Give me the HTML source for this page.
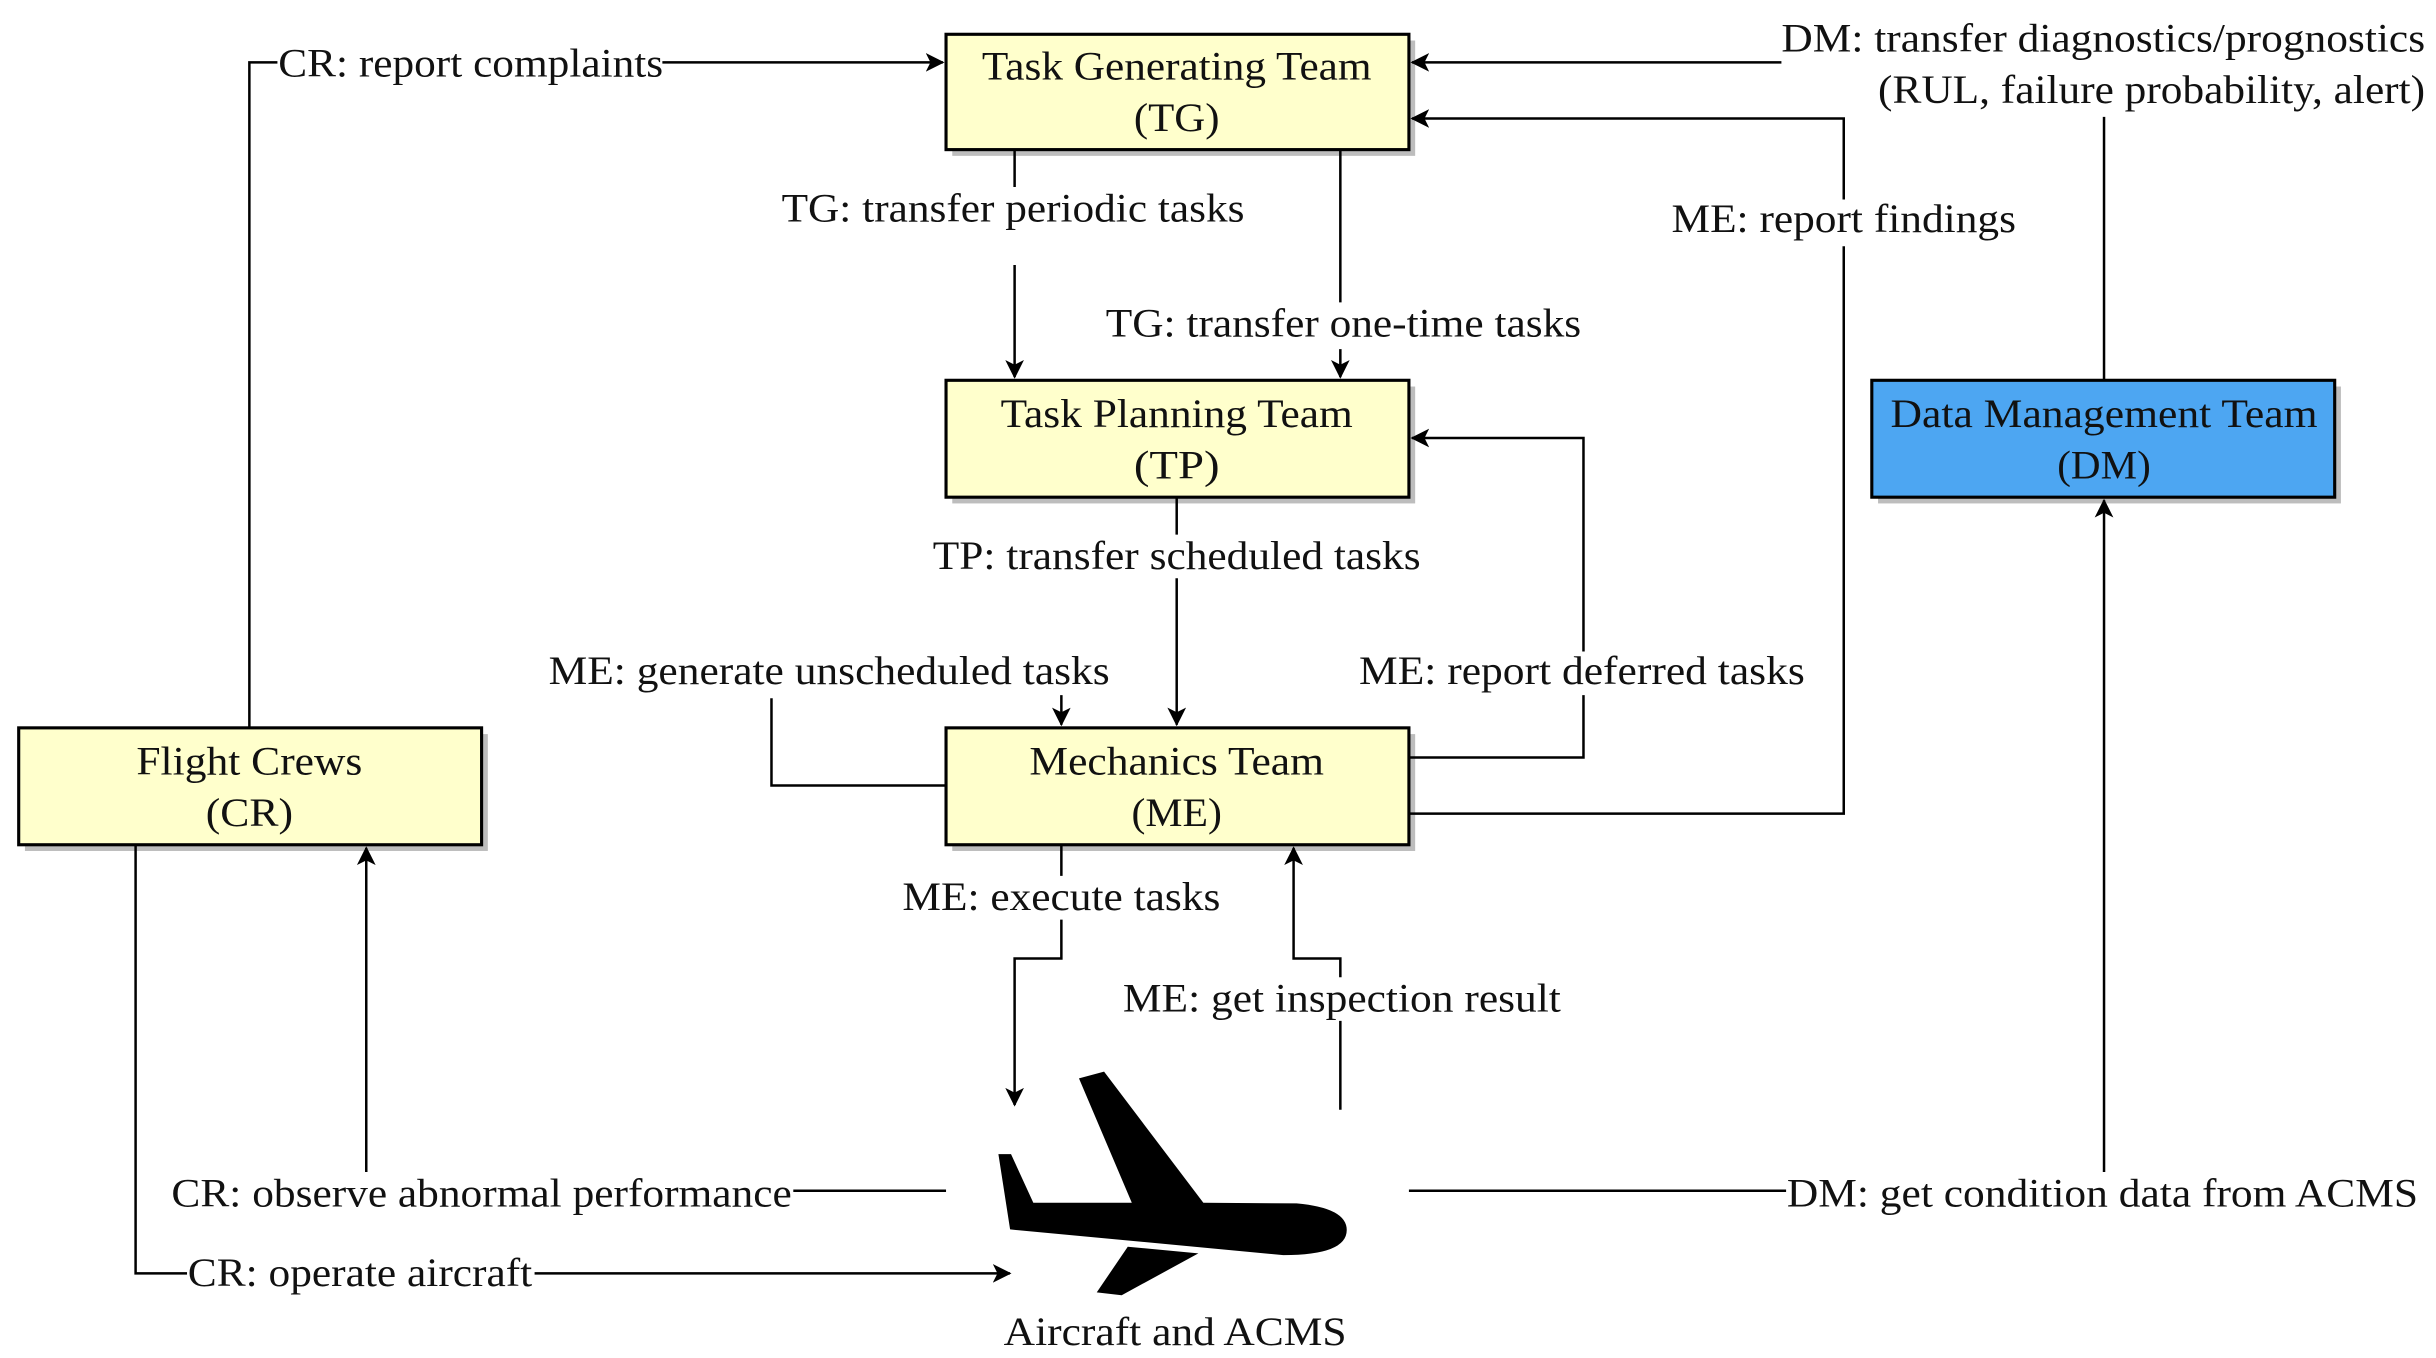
<!DOCTYPE html>
<html><head><meta charset="utf-8"><style>
html,body{margin:0;padding:0;background:#fff;}
svg{display:block;}
text{font-family:"Liberation Serif",serif;font-size:26px;fill:#111;}
</style></head><body>
<svg width="2436" height="1358" viewBox="0 0 1563 871.3" preserveAspectRatio="none" xmlns="http://www.w3.org/2000/svg">
<defs>
<marker id="a" viewBox="0 0 12 12" refX="11" refY="6" markerWidth="12" markerHeight="12" markerUnits="userSpaceOnUse" orient="auto">
<path d="M0,0 L12,6 L0,12 L3,6 Z" fill="#000"/></marker>
</defs>
<g fill="#bdbdbd">
<rect x="611" y="26" width="297" height="74"/>
<rect x="611" y="248" width="297" height="75"/>
<rect x="611" y="471" width="297" height="75"/>
<rect x="16" y="471" width="297" height="75"/>
<rect x="1205" y="248" width="297" height="75"/>
</g>
<g stroke="#000" stroke-width="2">
<rect x="607" y="22" width="297" height="74" fill="#ffffcc"/>
<rect x="607" y="244" width="297" height="75" fill="#ffffcc"/>
<rect x="607" y="467" width="297" height="75" fill="#ffffcc"/>
<rect x="12" y="467" width="297" height="75" fill="#ffffcc"/>
<rect x="1201" y="244" width="297" height="75" fill="#4da6f2"/>
</g>
<g fill="none" stroke="#000" stroke-width="1.6">
<path d="M160,467 V40 H178 M425,40 H605" marker-end="url(#a)"/>
<path d="M1350,244 V75"/>
<path d="M1143,40 H906" marker-end="url(#a)"/>
<path d="M904,522 H1183 V158 M1183,128 V76 H906" marker-end="url(#a)"/>
<path d="M651,96 V120 M651,170 V242" marker-end="url(#a)"/>
<path d="M860,96 V194 M860,224 V242" marker-end="url(#a)"/>
<path d="M755,319 V343 M755,371 V465" marker-end="url(#a)"/>
<path d="M904,486 H1016 V446 M1016,418 V281 H906" marker-end="url(#a)"/>
<path d="M607,504 H495 V448"/>
<path d="M681,446 V465" marker-end="url(#a)"/>
<path d="M681,542 V562 M681,590 V615 H651 V709" marker-end="url(#a)"/>
<path d="M860,712 V655 M860,627 V615 H830 V544" marker-end="url(#a)"/>
<path d="M607,764 H509 M235,752 V544" marker-end="url(#a)"/>
<path d="M87,542 V817 H120 M343,817 H648" marker-end="url(#a)"/>
<path d="M904,764 H1146 M1350,752 V321" marker-end="url(#a)"/>
</g>
<path fill="#000" d="M692.3,691.9 L708.4,687.6 L772.1,771.7 L832,772.1 Q864.1,775 864.1,789.2 Q864.1,805.3 823.4,805.3 L648.1,788.8 L640.6,740.5 L648.7,740.5 L663,771.7 L726.2,771.7 Z M723.6,799.9 L768.9,804.2 L719.7,831 L703.7,829.2 Z"/>
<g text-anchor="middle">
<text x="755" y="51" textLength="250" lengthAdjust="spacingAndGlyphs">Task Generating Team</text>
<text x="755" y="84" textLength="55" lengthAdjust="spacingAndGlyphs">(TG)</text>
<text x="755" y="274" textLength="226" lengthAdjust="spacingAndGlyphs">Task Planning Team</text>
<text x="755" y="307" textLength="55" lengthAdjust="spacingAndGlyphs">(TP)</text>
<text x="755" y="497" textLength="189" lengthAdjust="spacingAndGlyphs">Mechanics Team</text>
<text x="755" y="530" textLength="58" lengthAdjust="spacingAndGlyphs">(ME)</text>
<text x="160" y="497" textLength="145" lengthAdjust="spacingAndGlyphs">Flight Crews</text>
<text x="160" y="530" textLength="56" lengthAdjust="spacingAndGlyphs">(CR)</text>
<text x="1350" y="274" textLength="274" lengthAdjust="spacingAndGlyphs">Data Management Team</text>
<text x="1350" y="307" textLength="60" lengthAdjust="spacingAndGlyphs">(DM)</text>
<text x="302" y="49" textLength="247" lengthAdjust="spacingAndGlyphs">CR: report complaints</text>
<text x="1183" y="149" textLength="221" lengthAdjust="spacingAndGlyphs">ME: report findings</text>
<text x="650" y="142" textLength="297" lengthAdjust="spacingAndGlyphs">TG: transfer periodic tasks</text>
<text x="862" y="216" textLength="305" lengthAdjust="spacingAndGlyphs">TG: transfer one-time tasks</text>
<text x="755" y="365" textLength="313" lengthAdjust="spacingAndGlyphs">TP: transfer scheduled tasks</text>
<text x="1015" y="439" textLength="286" lengthAdjust="spacingAndGlyphs">ME: report deferred tasks</text>
<text x="532" y="439" textLength="360" lengthAdjust="spacingAndGlyphs">ME: generate unscheduled tasks</text>
<text x="681" y="584" textLength="204" lengthAdjust="spacingAndGlyphs">ME: execute tasks</text>
<text x="861" y="649" textLength="281" lengthAdjust="spacingAndGlyphs">ME: get inspection result</text>
<text x="309" y="774" textLength="398" lengthAdjust="spacingAndGlyphs">CR: observe abnormal performance</text>
<text x="231" y="825" textLength="221" lengthAdjust="spacingAndGlyphs">CR: operate aircraft</text>
<text x="1349" y="774" textLength="405" lengthAdjust="spacingAndGlyphs">DM: get condition data from ACMS</text>
<text x="754" y="863" textLength="220" lengthAdjust="spacingAndGlyphs">Aircraft and ACMS</text>
</g>
<g text-anchor="end">
<text x="1556" y="33" textLength="413" lengthAdjust="spacingAndGlyphs">DM: transfer diagnostics/prognostics</text>
<text x="1556" y="66" textLength="351" lengthAdjust="spacingAndGlyphs">(RUL, failure probability, alert)</text>
</g>
</svg>
</body></html>
